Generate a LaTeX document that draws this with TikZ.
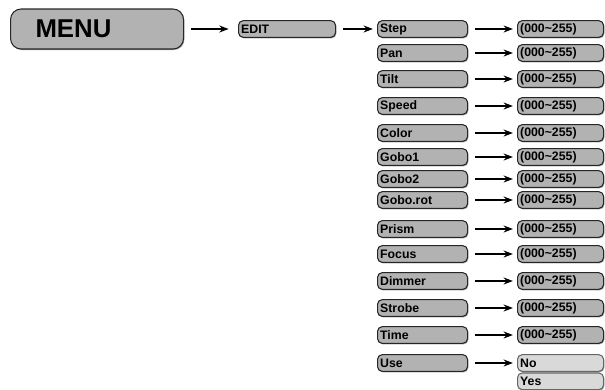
\documentclass[tikz,border=0pt]{standalone}
\usepackage{fontspec}
\setmainfont{Liberation Sans}
\usetikzlibrary{arrows.meta,positioning,shadows}

\begin{document}
\begin{tikzpicture}[x=0.03cm, y=-0.03cm,
  >=Stealth,
  btn/.style={draw=black!85, line width=0.9pt, fill=gray!60, rounded corners=4pt,
              anchor=west, minimum height=0.5cm, inner xsep=0.08cm, inner ysep=0pt,
              align=left, font=\fontsize{10.5}{12}\selectfont\bfseries,
              drop shadow={shadow xshift=0.7pt, shadow yshift=-0.9pt, fill=black!75}},
  parbtn/.style={btn, text width=2.54cm},
  valbtn/.style={btn, text width=2.42cm},
  optbtn/.style={valbtn, fill=gray!30, draw=black!60},
  arr/.style={->, line width=1.1pt, shorten >=3.5pt},
]
\useasboundingbox (0,0) rectangle (605,390);

% top level
\node[btn, text width=3.69cm, inner xsep=0.75cm, minimum height=1.2cm, rounded corners=9pt,
      font=\fontsize{22}{24}\selectfont\bfseries] (menu) at (10,29) {MENU};
\node[btn, text width=2.75cm] (edit) at (238,29) {EDIT};
\draw[arr, shorten >=8pt] ([xshift=6pt]menu.east) -- (edit.west);

% parameters and their ranges
\foreach \lbl/\yy [count=\i] in {Step/29, Pan/53, Tilt/79, Speed/106, Color/133,
    Gobo1/157, Gobo2/179, Gobo.rot/200, Prism/229, Focus/254, Dimmer/281,
    Strobe/308, Time/335}{
  \node[parbtn] (p\i) at (377,\yy) {\lbl};
  \node[valbtn] (v\i) at (517,\yy) {(000\textasciitilde255)};
  \draw[arr] ([xshift=6pt]p\i.east) -- (v\i.west);
}
\draw[arr] ([xshift=6pt]edit.east) -- (p1.west);

% use: yes / no
\node[parbtn] (use) at (377,363) {Use};
\node[optbtn] (no) at (517,363) {No};
\node[optbtn, below=0.5pt of no.south west, anchor=north west] (yes) {Yes};
\draw[arr] ([xshift=6pt]use.east) -- (no.west);
\end{tikzpicture}
\end{document}
